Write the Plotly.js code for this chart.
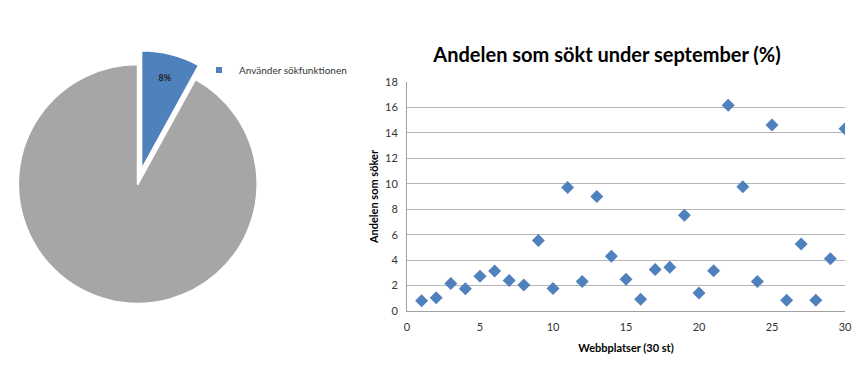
<!DOCTYPE html>
<html>
<head>
<meta charset="utf-8">
<script src="https://cdn.plot.ly/plotly-3.0.1.min.js"></script>
<style>html,body{margin:0;padding:0;background:#fff;}#chart{width:867px;height:374px;}</style>
</head>
<body>
<div id="chart"></div>
<script>
// Pie data
const pieLabels = ["Använder sökfunktionen", "Övriga"];
const pieValues = [8, 92];
const pieColors = ["#4F81BD", "#A6A6A6"];

// Scatter data
const sites = [1,2,3,4,5,6,7,8,9,10,11,12,13,14,15,16,17,18,19,20,21,22,23,24,25,26,27,28,29,30];
const shares = [0.8,1.05,2.17,1.75,2.73,3.14,2.39,2.04,5.55,1.76,9.7,2.31,9.0,4.3,2.5,0.92,3.27,3.43,7.52,1.41,3.17,16.17,9.77,2.31,14.62,0.84,5.27,0.84,4.11,14.33];

const chartTitle = "Andelen som sökt under september (%)";
const xTitle = "Webbplatser (30 st)";
const yTitle = "Andelen som söker";

const W = 867, H = 374;
const font = "Lato, 'Open Sans', sans-serif";

const pie = {
  type: "pie",
  labels: pieLabels,
  values: pieValues,
  sort: false,
  direction: "clockwise",
  rotation: 0,
  pull: [0.12, 0],
  marker: {colors: pieColors, line: {color: "#ffffff", width: 2}},
  textinfo: "percent",
  texttemplate: ["<b>%{percent:.0%}</b>", ""],
  textposition: "inside",
  insidetextanchor: "end",
  textfont: {family: font, size: 9, color: "#222222"},
  showlegend: false,
  hoverinfo: "label+percent",
  domain: {x: [3.5/W, 272/W], y: [(H-318)/H, (H-50)/H]}
};

const scatter = {
  type: "scatter",
  mode: "markers",
  x: sites,
  y: shares,
  marker: {symbol: "diamond", size: 10, color: "#4F81BD"},
  showlegend: false,
  xaxis: "x", yaxis: "y"
};

const legendDummy = {
  type: "scatter", mode: "markers",
  x: [null], y: [null],
  name: pieLabels[0],
  marker: {symbol: "square", size: 6, color: pieColors[0]},
  showlegend: true,
  xaxis: "x", yaxis: "y"
};

const layout = {
  width: W, height: H,
  margin: {l: 0, r: 0, t: 0, b: 0},
  paper_bgcolor: "#ffffff",
  plot_bgcolor: "#ffffff",
  font: {family: font, color: "#333333"},
  title: {text: "<b>" + chartTitle + "</b>", font: {family: font, size: 20, color: "#000000"}, x: 607/W, xanchor: "center", y: (H-55)/H, yanchor: "middle"},
  xaxis: {
    domain: [407/W, 845/W],
    range: [0, 30], tickvals: [0,5,10,15,20,25,30],
    showgrid: false, zeroline: false,
    showline: true, linecolor: "#A0A0A0", linewidth: 1,
    ticks: "", ticklabelstandoff: 6,
    tickfont: {family: font, size: 11, color: "#333333"},
    title: {text: "<b>" + xTitle + "</b>", font: {family: font, size: 11, color: "#000000"}, standoff: 12},
    fixedrange: true
  },
  yaxis: {
    domain: [(H-311)/H, (H-82)/H],
    range: [0, 18], dtick: 2,
    showgrid: true, gridcolor: "#B5B5B5", gridwidth: 1,
    zeroline: false,
    showline: true, linecolor: "#A0A0A0", linewidth: 1,
    ticks: "", ticklabelstandoff: 6,
    tickfont: {family: font, size: 11, color: "#333333"},
    title: {text: "<b>" + yTitle + "</b>", font: {family: font, size: 11, color: "#000000"}, standoff: 4},
    fixedrange: true
  },
  legend: {
    x: 199/W, y: (H-70)/H, xanchor: "left", yanchor: "middle",
    font: {family: font, size: 10, color: "#333333"},
    bgcolor: "rgba(0,0,0,0)", itemwidth: 30
  }
};

Plotly.newPlot("chart", [pie, scatter, legendDummy], layout, {displayModeBar: false, staticPlot: true});
</script>
</body>
</html>
